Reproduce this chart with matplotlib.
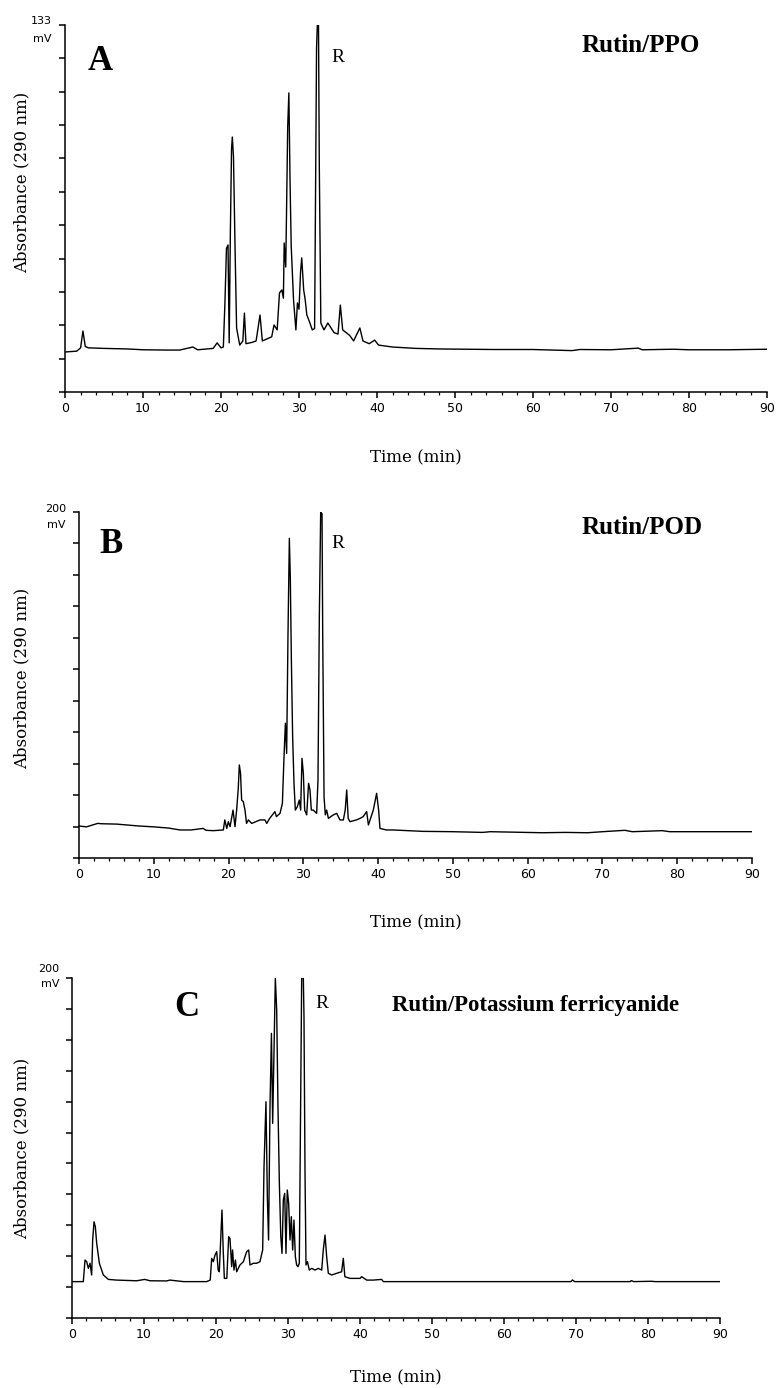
import matplotlib
matplotlib.use('Agg')

import numpy as np
import matplotlib.pyplot as plt
from matplotlib.ticker import MultipleLocator

# --- Data ---
# Panel A: Rutin/PPO, full scale 133 mV
time_a = [0.0, 1.5, 2.0, 2.3, 2.6, 3.0, 5.0, 8.0, 10.0, 13.0,
          14.7, 16.4, 17.0, 19.0, 19.5, 20.0, 20.3, 20.5, 20.7, 20.9,
          21.05, 21.2, 21.35, 21.45, 21.6, 21.8, 22.0, 22.4, 22.8, 23.0,
          23.2, 24.0, 24.5, 25.0, 25.3, 26.5, 26.8, 27.2, 27.5, 27.8,
          28.0, 28.1, 28.3, 28.4, 28.55, 28.7, 28.85, 29.0, 29.3, 29.6,
          29.8, 30.0, 30.2, 30.35, 30.6, 30.8, 31.0, 31.4, 31.7, 32.0,
          32.1, 32.25, 32.35, 32.5, 32.6, 32.8, 33.2, 33.7, 34.5, 35.0,
          35.3, 35.6, 36.5, 37.0, 37.8, 38.2, 39.0, 39.7, 40.2, 42.0,
          45.0, 48.0, 55.0, 60.0, 65.0, 66.0, 70.0, 73.5, 74.0, 78.0,
          80.0, 85.0, 90.0]
absorb_a = [14.5, 14.8, 16.0, 22.1, 16.5, 16.0, 15.8, 15.6, 15.3, 15.2,
            15.2, 16.3, 15.3, 15.8, 17.8, 16.0, 16.3, 32.0, 52.0, 53.3,
            17.8, 57.6, 88.0, 92.4, 85.2, 52.5, 23.2, 17.0, 18.5, 28.6,
            17.5, 18.0, 18.5, 27.9, 18.5, 20.0, 24.3, 22.5, 35.9, 37.0,
            34.0, 54.0, 45.3, 64.9, 96.0, 108.4, 76.8, 53.0, 33.3, 22.5,
            32.3, 30.0, 43.5, 48.6, 37.0, 33.3, 28.0, 25.0, 22.5, 23.0,
            63.4, 124.7, 133.0, 133.0, 83.0, 25.0, 22.5, 25.0, 21.5, 21.0,
            31.5, 22.5, 20.5, 18.5, 23.2, 18.5, 17.5, 18.8, 17.0, 16.3,
            15.8, 15.6, 15.4, 15.4, 15.0, 15.4, 15.3, 15.9, 15.3, 15.5,
            15.3, 15.3, 15.5]

# Panel B: Rutin/POD, full scale 200 mV
time_b = [0.0, 1.0, 2.5, 3.0, 5.0, 8.0, 10.0, 12.0, 13.5, 15.0,
          16.6, 17.0, 17.96, 19.3, 19.5, 19.76, 19.97, 20.2, 20.6, 20.86,
          21.08, 21.3, 21.44, 21.6, 21.75, 21.97, 22.2, 22.4, 22.65, 23.09,
          24.2, 24.87, 25.1, 25.5, 26.2, 26.4, 26.88, 27.2, 27.4, 27.6,
          27.77, 27.95, 28.13, 28.26, 28.4, 28.57, 28.75, 28.93, 29.2, 29.46,
          29.64, 29.82, 30.0, 30.18, 30.45, 30.7, 30.89, 31.07, 31.33, 31.78,
          31.96, 32.14, 32.32, 32.5, 32.59, 32.77, 32.94, 33.12, 33.35, 34.0,
          34.46, 34.9, 35.35, 35.6, 35.8, 36.0, 36.24, 37.1, 37.58, 38.0,
          38.47, 38.7, 39.36, 39.8, 40.07, 40.25, 41.1, 42.0, 44.0, 46.0,
          50.0, 54.0, 55.0, 62.0, 65.0, 68.0, 70.0, 73.0, 74.0, 78.0,
          79.0, 90.0]
absorb_b = [18.5, 18.0, 20.0, 19.8, 19.6, 18.5, 18.0, 17.3, 16.2, 16.2,
            17.1, 16.0, 15.8, 16.2, 22.0, 17.1, 21.0, 18.1, 27.7, 18.1,
            27.7, 40.3, 53.8, 49.0, 33.5, 32.6, 27.7, 20.0, 22.0, 20.0,
            22.0, 22.0, 20.0, 22.9, 26.8, 23.9, 25.8, 31.6, 56.6, 77.9,
            60.5, 129.9, 184.8, 161.6, 114.4, 70.1, 43.2, 27.7, 29.7, 33.5,
            27.7, 57.6, 49.0, 27.7, 24.9, 43.2, 39.3, 27.7, 27.7, 25.8,
            45.1, 139.5, 200.0, 199.0, 129.9, 35.4, 24.9, 27.7, 22.9, 24.9,
            25.8, 22.0, 22.0, 27.7, 39.3, 22.9, 21.0, 22.0, 22.9, 23.9,
            26.8, 19.1, 27.7, 37.4, 27.7, 17.1, 16.2, 16.2, 15.8, 15.4,
            15.2, 14.8, 15.2, 14.6, 14.8, 14.6, 15.2, 16.0, 15.2, 15.8,
            15.2, 15.2]

# Panel C: Rutin/Potassium ferricyanide, full scale 200 mV
time_c = [0.0, 1.57, 1.81, 2.04, 2.27, 2.5, 2.73, 2.87, 3.06, 3.24,
          3.43, 3.8, 4.35, 5.05, 6.2, 8.98, 10.1, 10.83, 13.15, 13.6,
          15.5, 18.7, 19.2, 19.4, 19.63, 19.86, 20.1, 20.3, 20.46, 20.65,
          20.83, 21.0, 21.16, 21.5, 21.76, 21.94, 22.18, 22.3, 22.5, 22.7,
          22.87, 23.33, 23.8, 24.26, 24.54, 24.72, 25.2, 25.65, 26.1, 26.48,
          26.67, 26.94, 27.13, 27.3, 27.5, 27.7, 27.87, 28.06, 28.24, 28.43,
          28.6, 28.8, 29.0, 29.17, 29.35, 29.54, 29.72, 29.9, 30.09, 30.28,
          30.46, 30.65, 30.83, 31.02, 31.2, 31.39, 31.57, 31.76, 31.9, 32.13,
          32.22, 32.36, 32.5, 32.7, 32.96, 33.3, 33.75, 34.2, 34.68, 34.9,
          35.14, 35.37, 35.6, 36.07, 36.76, 37.45, 37.68, 37.9, 38.6, 40.0,
          40.23, 40.93, 41.85, 43.0, 43.24, 45.55, 52.5, 60.0, 69.3, 69.5,
          69.8, 77.5, 77.7, 78.0, 80.5, 81.0, 90.0]
absorb_c = [21.4, 21.4, 34.1, 33.1, 29.2, 32.2, 25.3, 45.9, 56.6, 53.7,
            43.9, 32.2, 25.3, 22.7, 22.3, 21.9, 22.7, 21.9, 21.8, 22.3,
            21.4, 21.4, 22.3, 35.1, 33.1, 37.0, 39.0, 28.2, 27.2, 45.9,
            63.5, 40.0, 23.3, 23.3, 47.8, 46.8, 30.2, 40.0, 28.2, 34.1,
            27.2, 31.2, 33.1, 39.0, 40.0, 31.2, 32.2, 32.2, 33.1, 40.0,
            89.0, 127.2, 71.3, 45.9, 124.2, 167.4, 114.5, 157.6, 200.0, 181.1,
            126.2, 79.2, 47.8, 38.0, 69.4, 73.3, 38.0, 75.3, 67.4, 45.9,
            59.6, 40.0, 57.6, 36.1, 31.2, 30.2, 32.2, 128.2, 200.0, 200.0,
            177.2, 87.0, 31.2, 33.1, 28.2, 29.2, 28.2, 29.2, 28.2, 40.0,
            48.8, 36.1, 26.3, 25.3, 26.3, 27.2, 35.1, 24.3, 23.3, 23.3,
            24.3, 22.3, 22.3, 22.7, 21.4, 21.4, 21.4, 21.4, 21.4, 22.4,
            21.4, 21.4, 22.0, 21.4, 21.6, 21.4, 21.4]

full_scale = [133, 200, 200]
panel_letters = ['A', 'B', 'C']
panel_titles = ['Rutin/PPO', 'Rutin/POD', 'Rutin/Potassium ferricyanide']

W, H = 777, 1388


def fx(x):
    return x / W


def fy(y):
    return 1 - y / H


fig = plt.figure(figsize=(W / 100, H / 100), dpi=100)

# axes boxes in pixels: left, top, right, bottom
boxes = [(65, 25, 767, 392), (79, 512, 752, 858), (72, 978, 720, 1318)]
series = [(time_a, absorb_a), (time_b, absorb_b), (time_c, absorb_c)]
scale_offsets = [(3.5, -13.5), (3.0, -13.5), (9.0, -6.0)]
xlabel_offsets = [-66, -65, -60]
ylabel_y = [182, 678, 1148]
letter_pos = [(100, 62), (111, 545), (187, 1008)]
title_pos = [(641, 45), (642, 528), (536, 1005)]
title_size = [18, 18, 16.5]
r_pos = [(338, 57), (338, 543), (322, 1003)]

for i in range(3):
    l, t, r, b = boxes[i]
    ax = fig.add_axes([fx(l), fy(b), (r - l) / W, (b - t) / H])
    tt, vv = series[i]
    ymax = full_scale[i]
    ax.plot(tt, vv, color='black', lw=1.0)
    ax.set_xlim(0, 90)
    ax.set_ylim(0, ymax)

    for s in ['top', 'right']:
        ax.spines[s].set_visible(False)
    for s in ['left', 'bottom']:
        ax.spines[s].set_linewidth(1.1)

    ax.set_xticks(range(0, 91, 10))
    ax.xaxis.set_minor_locator(MultipleLocator(2))
    ax.set_yticks(np.linspace(0, ymax, 12))
    ax.set_yticklabels([])
    ax.tick_params(axis='x', which='major', length=4, width=1.1, labelsize=9, pad=3)
    ax.tick_params(axis='x', which='minor', length=2.5, width=0.9)
    ax.tick_params(axis='y', length=4, width=1.1)
    for lab in ax.get_xticklabels():
        lab.set_family('DejaVu Sans')

    # full scale marker
    up, dn = scale_offsets[i]
    ax.annotate(str(ymax), xy=(0, 1), xycoords='axes fraction', xytext=(-13, up),
                textcoords='offset pixels', ha='right', va='center', fontsize=8,
                family='DejaVu Sans')
    ax.annotate('mV', xy=(0, 1), xycoords='axes fraction', xytext=(-13, dn),
                textcoords='offset pixels', ha='right', va='center', fontsize=8,
                family='DejaVu Sans')

    ax.annotate('Time (min)', xy=(0.5, 0), xycoords='axes fraction',
                xytext=(0, xlabel_offsets[i]), textcoords='offset pixels',
                ha='center', va='center', fontsize=12, family='DejaVu Serif')

    fig.text(fx(22), fy(ylabel_y[i]), 'Absorbance (290 nm)', rotation=90,
             ha='center', va='center', fontsize=12, family='DejaVu Serif')

    lx, ly = letter_pos[i]
    fig.text(fx(lx), fy(ly), panel_letters[i], ha='center', va='center',
             fontsize=25, fontweight='bold', family='Liberation Serif')
    tx, ty = title_pos[i]
    fig.text(fx(tx), fy(ty), panel_titles[i], ha='center', va='center',
             fontsize=title_size[i], fontweight='bold', family='Liberation Serif')
    rx, ry = r_pos[i]
    fig.text(fx(rx), fy(ry), 'R', ha='center', va='center',
             fontsize=14, family='Liberation Serif')

fig.savefig('out.png', dpi=100)
